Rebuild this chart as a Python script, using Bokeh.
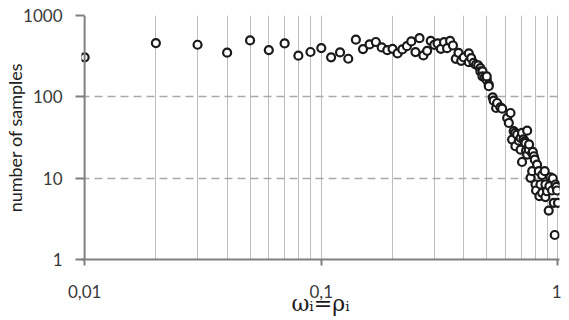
from bokeh.plotting import figure
from bokeh.models import FixedTicker, Range1d, Span
from bokeh.embed import file_html
from bokeh.resources import INLINE

# ---- data ----
x_vals = [0.01, 0.02, 0.03, 0.04, 0.05, 0.06, 0.07, 0.08, 0.09, 0.10,
          0.11, 0.12, 0.13, 0.14, 0.15, 0.16, 0.17, 0.18, 0.19, 0.20,
          0.21, 0.22, 0.23, 0.24, 0.25, 0.26, 0.27, 0.28, 0.29, 0.30,
          0.31, 0.32, 0.33, 0.34, 0.35, 0.36, 0.37, 0.38, 0.39, 0.40,
          0.42, 0.42, 0.43, 0.44, 0.45, 0.46, 0.47, 0.47, 0.48, 0.48,
          0.49, 0.50, 0.50, 0.51, 0.51, 0.53, 0.535, 0.548, 0.553, 0.571,
          0.581, 0.61, 0.62, 0.63, 0.64, 0.65, 0.66, 0.661, 0.672, 0.683,
          0.695, 0.695, 0.705, 0.705, 0.715, 0.724, 0.729, 0.733, 0.741, 0.741,
          0.753, 0.755, 0.766, 0.778, 0.778, 0.783, 0.791, 0.798, 0.804, 0.808,
          0.816, 0.830, 0.835, 0.843, 0.857, 0.857, 0.879, 0.885, 0.885, 0.899,
          0.914, 0.920, 0.930, 0.944, 0.951, 0.960, 0.969, 0.976, 0.985, 0.991,
          1.0]
y_vals = [306, 458, 437, 349, 494, 376, 454, 321, 356, 398,
          306, 352, 294, 504, 387, 441, 472, 405, 375, 389,
          342, 383, 420, 480, 355, 527, 323, 368, 488, 436,
          453, 389, 470, 397, 488, 428, 293, 348, 277, 305,
          342, 267, 299, 262, 248, 244, 226, 206, 206, 178,
          173, 162, 178, 141, 135, 98.6, 89.6, 72.9, 84, 74.3,
          71.5, 55, 47.7, 63.3, 29.8, 37.8, 36, 24.7, 34.3, 28.9,
          31.2, 22.4, 36, 15.8, 30, 28.4, 27.1, 21.8, 38.4, 19.5,
          22.4, 26, 10.1, 20.4, 12.2, 21, 18.6, 16.9, 8.36, 7.05,
          14.7, 12.2, 6.0, 8.36, 10.9, 6.6, 12.2, 8.36, 5.85, 6.9,
          4.0, 8.0, 10.2, 7.05, 9.9, 4.98, 2.0, 8.36, 7.8, 7.05,
          4.98]

x_tick_values = [0.01, 0.1, 1]
x_tick_labels = ["0,01", "0,1", "1"]
y_tick_values = [1, 10, 100, 1000]
x_grid_values = [0.01, 0.02, 0.03, 0.04, 0.05, 0.06, 0.07, 0.08, 0.09,
                 0.1, 0.2, 0.3, 0.4, 0.5, 0.6, 0.7, 0.8, 0.9, 1]
y_grid_values = [10, 100, 1000]
x_label = "ωᵢ=ρᵢ"
y_label = "number of samples"

AXIS = "#808080"

p = figure(frame_width=478, frame_height=244, x_axis_type="log", y_axis_type="log",
           x_range=Range1d(0.0097, 1.015), y_range=Range1d(1, 1000),
           output_backend="svg", toolbar_location=None,
           min_border_left=81, min_border_right=2, min_border_top=15,
           min_border_bottom=45)
p.outline_line_color = None
p.background_fill_color = "white"
p.border_fill_color = "white"

# grids
p.xgrid.ticker = FixedTicker(ticks=x_grid_values)
p.xgrid.grid_line_color = "#bdbdbd"
p.xgrid.grid_line_width = 1
p.ygrid.ticker = FixedTicker(ticks=y_grid_values)
p.ygrid.grid_line_color = "#aaaaaa"
p.ygrid.grid_line_width = 1.5
p.ygrid.grid_line_dash = "8 5"

# vertical axis line drawn at the first x tick so that markers there are not clipped
p.add_layout(Span(location=x_tick_values[0], dimension="height",
                  line_color=AXIS, line_width=2))

p.scatter(x_vals, y_vals, marker="circle", size=8, line_width=2.2,
          line_color="#1a1a1a", fill_color="white")

# axes
for ax in (p.xaxis[0], p.yaxis[0]):
    ax.axis_line_color = AXIS
    ax.axis_line_width = 2
    ax.major_tick_line_color = AXIS
    ax.major_tick_line_width = 2
    ax.major_tick_out = 6
    ax.major_tick_in = 0
    ax.minor_tick_line_color = None
    ax.major_label_text_font = "Lato"
    ax.major_label_text_font_size = "17px"
    ax.major_label_text_color = "#3a3a3a"
    ax.major_label_standoff = 13

p.xaxis.major_label_standoff = 19
p.yaxis.axis_line_color = None
p.yaxis.major_tick_in = 3
p.yaxis.major_tick_out = 6

p.xaxis.ticker = FixedTicker(ticks=x_tick_values)
p.xaxis.major_label_overrides = dict(zip(x_tick_values, x_tick_labels))
p.yaxis.ticker = FixedTicker(ticks=y_tick_values)
p.yaxis.major_label_overrides = {v: str(v) for v in y_tick_values}

p.yaxis.axis_label = y_label
p.yaxis.axis_label_text_font = "Lato"
p.yaxis.axis_label_text_font_size = "18px"
p.yaxis.axis_label_text_font_style = "normal"
p.yaxis.axis_label_text_color = "#222222"
p.yaxis.axis_label_standoff = -6

p.xaxis.axis_label = x_label
p.xaxis.axis_label_text_font = "DejaVu Serif"
p.xaxis.axis_label_text_font_size = "22px"
p.xaxis.axis_label_text_font_style = "normal"
p.xaxis.axis_label_text_color = "#1a1a1a"
p.xaxis.axis_label_standoff = -10

open("out.html", "w").write(file_html(p, INLINE))
